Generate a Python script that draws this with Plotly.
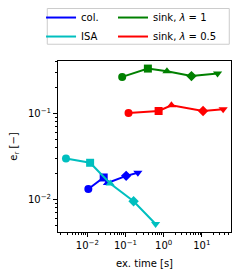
import plotly.graph_objects as go

symbols = ["circle", "square", "triangle-up", "diamond", "triangle-down"]

col_x = [0.0106, 0.0268, 0.0336, 0.104, 0.211]
col_y = [0.0132, 0.0180, 0.0155, 0.0188, 0.0204]

isa_x = [0.00275, 0.0118, 0.0396, 0.163, 0.615]
isa_y = [0.030, 0.0267, 0.0153, 0.0095, 0.00516]

sink1_x = [0.0818, 0.386, 1.22, 5.36, 25.9]
sink1_y = [0.267, 0.334, 0.310, 0.273, 0.292]

sink05_x = [0.12, 0.738, 1.60, 10.8, 36.3]
sink05_y = [0.1016, 0.107, 0.125, 0.107, 0.112]

x_tickvals = [0.01, 0.1, 1, 10]
x_ticktext = ["10<sup>−2</sup>", "10<sup>−1</sup>", "10<sup>0</sup>", "10<sup>1</sup>"]
y_tickvals = [0.01, 0.1]
y_ticktext = ["10<sup>−2</sup>", "10<sup>−1</sup>"]

# (name, x, y, colour, legend)
series = [
    ("col.", col_x, col_y, "#0000ff", "legend"),
    ("sink, <i>λ</i> = 1", sink1_x, sink1_y, "#008000", "legend2"),
    ("ISA", isa_x, isa_y, "#00bfbf", "legend"),
    ("sink, <i>λ</i> = 0.5", sink05_x, sink05_y, "#ff0000", "legend2"),
]
legend_order = [0, 2, 1, 3]

def minor_vals(lo, hi):
    vals = []
    for e in range(lo, hi + 1):
        for m in range(2, 10):
            vals.append(m * 10.0 ** e)
    return vals

fig = go.Figure()
for name, xs, ys, color, lg in series:
    fig.add_trace(go.Scatter(
        x=xs, y=ys, mode="lines+markers", showlegend=False, cliponaxis=False,
        line=dict(color=color, width=2),
        marker=dict(symbol=symbols, size=8, color=color),
    ))
for i in legend_order:
    name, xs, ys, color, lg = series[i]
    fig.add_trace(go.Scatter(
        x=[None], y=[None], mode="lines", name=name, legend=lg,
        line=dict(color=color, width=2),
    ))

axis_common = dict(
    type="log", showgrid=False, zeroline=False,
    showline=True, linecolor="black", linewidth=1, mirror=True,
    ticks="outside", ticklen=4, tickcolor="black",
    tickfont=dict(size=10, color="black"),
)

fig.update_xaxes(**axis_common, range=[-2.77, 1.766],
                 tickvals=x_tickvals, ticktext=x_ticktext,
                 minor=dict(ticks="outside", ticklen=2, tickcolor="black",
                            showgrid=False, tickvals=minor_vals(-3, 1)),
                 title=dict(text="ex. time [s]", font=dict(size=10, color="black"), standoff=9))
fig.update_yaxes(**axis_common, range=[-2.38, -0.388],
                 tickvals=y_tickvals, ticktext=y_ticktext,
                 minor=dict(ticks="outside", ticklen=2, tickcolor="black",
                            showgrid=False, tickvals=minor_vals(-3, -1)),
                 title=dict(text="e<sub>r</sub> [−]", font=dict(size=10, color="black"), standoff=9))

fig.add_shape(type="rect", xref="paper", yref="paper",
              x0=-0.062, x1=0.99, y0=1.098, y1=1.307,
              line=dict(color="#cccccc", width=1), fillcolor="rgba(0,0,0,0)",
              layer="above")

legend_common = dict(
    orientation="v", y=1.339, xanchor="left", yanchor="top",
    borderwidth=0, bgcolor="rgba(0,0,0,0)",
    font=dict(size=10), itemwidth=30, tracegroupgap=0,
)

fig.update_layout(
    width=232, height=268,
    margin=dict(l=50, r=9, t=53, b=44, autoexpand=False),
    paper_bgcolor="white", plot_bgcolor="white",
    font=dict(family="DejaVu Sans", size=10, color="black"),
    legend=dict(x=-0.098, **legend_common),
    legend2=dict(x=0.318, **legend_common),
)

fig.write_html("out.html")
